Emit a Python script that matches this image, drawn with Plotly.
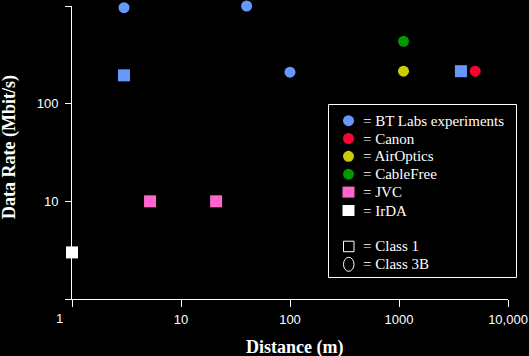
import plotly.graph_objects as go

# ---- data ----
series_names = ["BT Labs experiments", "Canon", "AirOptics", "CableFree", "JVC", "IrDA"]
series_colors = ["#6699FF", "#FF0033", "#CCCC00", "#009900", "#FF66CC", "#FFFFFF"]

bt_x = [3.0, 40, 3.0, 100, 3700]
bt_y = [960, 1000, 195, 210, 215]
bt_class = ["3B", "3B", "1", "3B", "1"]

canon_x = [5000]
canon_y = [215]
canon_class = ["3B"]

airoptics_x = [1100]
airoptics_y = [215]
airoptics_class = ["3B"]

cablefree_x = [1100]
cablefree_y = [435]
cablefree_class = ["3B"]

jvc_x = [5.2, 21]
jvc_y = [10, 10]
jvc_class = ["1", "1"]

irda_x = [1.0]
irda_y = [3.0]
irda_class = ["1"]

class_names = ["Class 1", "Class 3B"]

x_tickvals = [1, 10, 100, 1000, 10000]
x_ticktext = ["", "10", "100", "1000", "10,000"]
y_tickvals = [1, 10, 100, 1000]
y_ticktext = ["", "10", "100", "1000"]

x_title = "Distance (m)"
y_title = "Data Rate (Mbit/s)"

# ---- layout geometry ----
W, H = 529, 356
PL, PT, PW, PH = 72, 6, 436, 293
SERIF = "Times New Roman, Liberation Serif, serif"
SANS = "Arial, Liberation Sans, sans-serif"


def pxx(p):
    return (p - PL) / PW


def pxy(p):
    return (PT + PH - p) / PH


symbol_of = {"1": "square", "3B": "circle"}
size_of = {"1": 12, "3B": 11}

fig = go.Figure()
all_series = [
    (bt_x, bt_y, bt_class),
    (canon_x, canon_y, canon_class),
    (airoptics_x, airoptics_y, airoptics_class),
    (cablefree_x, cablefree_y, cablefree_class),
    (jvc_x, jvc_y, jvc_class),
    (irda_x, irda_y, irda_class),
]
for name, color, (xs, ys, cls) in zip(series_names, series_colors, all_series):
    fig.add_trace(go.Scatter(
        x=xs, y=ys, mode="markers", name=name, showlegend=False,
        cliponaxis=False,
        marker=dict(color=color, opacity=1, symbol=[symbol_of[c] for c in cls],
                    size=[size_of[c] for c in cls], line=dict(width=0)),
    ))

shapes = []
annotations = []

# legend box
shapes.append(dict(type="rect", xref="paper", yref="paper",
                   x0=pxx(328.5), x1=pxx(516.5), y0=pxy(277.5), y1=pxy(104.5),
                   line=dict(color="white", width=1), fillcolor="black", layer="below"))

row_y = [120.7, 138.5, 156.3, 174.2, 192.1, 210.5]
mx = 348.5
for i, (name, color) in enumerate(zip(series_names, series_colors)):
    cy = row_y[i]
    if i < 4:
        shapes.append(dict(type="circle", xref="paper", yref="paper",
                           x0=pxx(mx - 5.5), x1=pxx(mx + 5.5), y0=pxy(cy + 5.5), y1=pxy(cy - 5.5),
                           fillcolor=color, line=dict(width=0)))
    else:
        shapes.append(dict(type="rect", xref="paper", yref="paper",
                           x0=pxx(mx - 6), x1=pxx(mx + 6), y0=pxy(cy + 5.5), y1=pxy(cy - 5.5),
                           fillcolor=color, line=dict(width=0)))
    annotations.append(dict(text="= " + name, xref="paper", yref="paper",
                            x=pxx(360.5), y=pxy(cy), xanchor="left", yanchor="middle",
                            showarrow=False, font=dict(family=SERIF, size=15, color="white")))

class_y = [246.2, 264.3]
shapes.append(dict(type="rect", xref="paper", yref="paper",
                   x0=pxx(mx - 5), x1=pxx(mx + 5.5), y0=pxy(class_y[0] + 5.5), y1=pxy(class_y[0] - 5),
                   line=dict(color="white", width=1), fillcolor="rgba(0,0,0,0)"))
shapes.append(dict(type="circle", xref="paper", yref="paper",
                   x0=pxx(mx - 5), x1=pxx(mx + 5.5), y0=pxy(class_y[1] + 7), y1=pxy(class_y[1] - 7),
                   line=dict(color="white", width=1), fillcolor="rgba(0,0,0,0)"))
for cname, cy in zip(class_names, class_y):
    annotations.append(dict(text="= " + cname, xref="paper", yref="paper",
                            x=pxx(360.5), y=pxy(cy), xanchor="left", yanchor="middle",
                            showarrow=False, font=dict(family=SERIF, size=15, color="white")))

# shared origin label "1"
annotations.append(dict(text="1", xref="paper", yref="paper", x=pxx(59), y=pxy(318),
                        xanchor="center", yanchor="middle", showarrow=False,
                        font=dict(family=SANS, size=13, color="white")))

# axis titles
annotations.append(dict(text="<b>" + x_title + "</b>", xref="paper", yref="paper",
                        x=pxx(294), y=pxy(347), xanchor="center", yanchor="middle",
                        showarrow=False, font=dict(family=SERIF, size=18, color="white")))
annotations.append(dict(text="<b>" + y_title + "</b>", xref="paper", yref="paper",
                        x=pxx(9), y=pxy(147), xanchor="center", yanchor="middle", textangle=-90,
                        showarrow=False, font=dict(family=SERIF, size=18, color="white")))

fig.update_layout(
    width=W, height=H,
    margin=dict(l=PL, r=W - PL - PW, t=PT, b=H - PT - PH, pad=0),
    paper_bgcolor="black", plot_bgcolor="black",
    shapes=shapes, annotations=annotations,
    showlegend=False,
    xaxis=dict(type="log", range=[0, 4], tickvals=x_tickvals, ticktext=x_ticktext,
               showgrid=False, zeroline=False, showline=True, linecolor="white", linewidth=1,
               ticks="outside", ticklen=7, tickcolor="white", tickwidth=1,
               ticklabelstandoff=1, automargin=False,
               tickfont=dict(family=SANS, size=13, color="white")),
    yaxis=dict(type="log", range=[0, 3], tickvals=y_tickvals, ticktext=y_ticktext,
               showgrid=False, zeroline=False, showline=True, linecolor="white", linewidth=1,
               ticks="outside", ticklen=6, tickcolor="white", tickwidth=1,
               ticklabelstandoff=4, automargin=False,
               tickfont=dict(family=SANS, size=13, color="white")),
)

fig.write_html("out.html", config={"displayModeBar": False},
               post_script="document.body.style.margin='0';document.body.style.background='black';")
